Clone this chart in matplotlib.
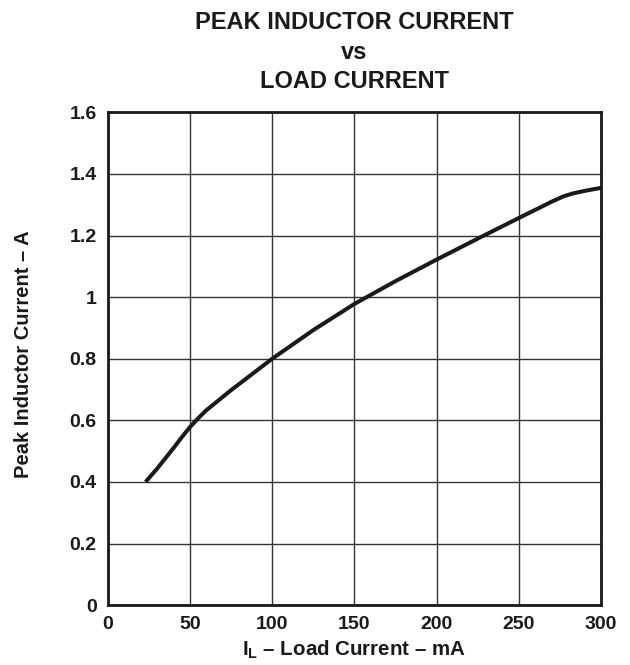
import matplotlib
matplotlib.use("Agg")
import matplotlib.pyplot as plt

load_ma = [23, 30, 40, 45, 50, 55, 60, 75, 100, 125, 150, 175, 200, 225, 250, 270, 277, 283, 290, 300]
peak_a = [0.40, 0.443, 0.51, 0.545, 0.578, 0.607, 0.633, 0.698, 0.80, 0.893, 0.978, 1.052, 1.122, 1.19, 1.257, 1.31, 1.327, 1.337, 1.345, 1.355]
xticks = [0, 50, 100, 150, 200, 250, 300]
yticks = [0, 0.2, 0.4, 0.6, 0.8, 1.0, 1.2, 1.4, 1.6]
ytick_labels = ["0", "0.2", "0.4", "0.6", "0.8", "1", "1.2", "1.4", "1.6"]

plt.rcParams['font.family'] = ['Liberation Sans', 'DejaVu Sans']
plt.rcParams['font.weight'] = 'bold'
plt.rcParams['mathtext.fontset'] = 'custom'
plt.rcParams['mathtext.rm'] = 'Liberation Sans:bold'
plt.rcParams['mathtext.it'] = 'Liberation Sans:bold'
plt.rcParams['mathtext.bf'] = 'Liberation Sans:bold'

ink = '#1a1a1a'
fig = plt.figure(figsize=(6.3, 6.65), dpi=100)
ax = fig.add_axes([0.171, 0.090, 0.783, 0.741])

ax.plot(load_ma, peak_a, color=ink, lw=2.9, solid_capstyle='butt',
        solid_joinstyle='round', zorder=3)

ax.set_xlim(0, 300)
ax.set_ylim(0, 1.6)
ax.set_xticks(xticks)
ax.set_yticks(yticks)
ax.set_yticklabels(ytick_labels)
ax.grid(True, color='#333333', lw=1.0)
ax.set_axisbelow(True)
for s in ax.spines.values():
    s.set_linewidth(2.0)
    s.set_color(ink)
ax.tick_params(length=0, labelsize=14, pad=8, colors=ink)
for lab in ax.get_xticklabels() + ax.get_yticklabels():
    lab.set_fontweight('bold')

fig.text(0.022, 0.467, 'Peak Inductor Current – A', rotation=90, ha='left', va='center',
         fontsize=14.5, fontweight='bold', color=ink)
fig.text(0.562, 0.006, r'$\mathrm{I_L}$ – Load Current – mA', ha='center', va='bottom',
         fontsize=14.8, fontweight='bold', color=ink)

fig.text(0.562, 0.956, 'PEAK INDUCTOR CURRENT', ha='center', va='baseline', fontsize=17, fontweight='bold', color=ink)
fig.text(0.562, 0.912, 'vs', ha='center', va='baseline', fontsize=17, fontweight='bold', color=ink)
fig.text(0.562, 0.867, 'LOAD CURRENT', ha='center', va='baseline', fontsize=17, fontweight='bold', color=ink)

fig.savefig('out.png', dpi=100)
